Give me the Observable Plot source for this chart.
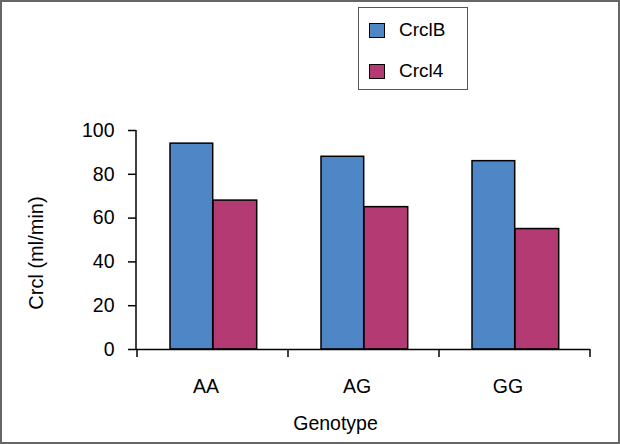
<!DOCTYPE html>
<html>
<head>
<meta charset="utf-8">
<script src="https://cdn.jsdelivr.net/npm/d3@7"></script>
<script src="https://cdn.jsdelivr.net/npm/@observablehq/plot@0.6"></script>
<style>
  html, body { margin: 0; padding: 0; background: #fff; }
  #wrap { position: relative; width: 620px; height: 444px; overflow: hidden; font-family: "Liberation Sans", Arial, sans-serif; }
  #chart svg { display: block; }
  #chart svg [aria-label^="y-axis"] path { stroke-width: 1.5; }
  #border { position: absolute; left: 0; top: 0; width: 620px; height: 444px; box-sizing: border-box; border: 2px solid #666; pointer-events: none; }
  #legend { position: absolute; left: 358px; top: 7px; width: 110px; height: 83px; box-sizing: border-box; border: 1.5px solid #555; background: #fff; }
  .item { position: absolute; left: 10px; height: 20px; display: flex; align-items: center; font-size: 19px; color: #000; }
  .sw { width: 14px; height: 13px; border: 1.5px solid #000; margin-right: 14px; }
</style>
</head>
<body>
<div id="wrap">
  <div id="chart"></div>
  <div id="legend"></div>
  <div id="border"></div>
</div>
<script>
// Data
const genotypes = ["AA", "AG", "GG"];
const seriesNames = ["CrclB", "Crcl4"];
const crclB = [94, 88, 86];
const crcl4 = [68, 65, 55];
const yTicks = [0, 20, 40, 60, 80, 100];
const colors = ["#4e86c6", "#b33a72"];
const yLabel = "Crcl (ml/min)";
const xLabel = "Genotype";

const rowsB = genotypes.map((g, i) => ({genotype: g, series: seriesNames[0], value: crclB[i]}));
const rows4 = genotypes.map((g, i) => ({genotype: g, series: seriesNames[1], value: crcl4[i]}));

// custom axis lines & category boundary ticks
function axisLines(index, scales, values, dimensions) {
  const {width, height, marginLeft, marginRight, marginTop, marginBottom} = dimensions;
  const x = scales.x;
  const bw = x(genotypes[1]) - x(genotypes[0]);
  const yb = height - marginBottom;
  const g = d3.create("svg:g").attr("stroke", "#000").attr("stroke-width", 1.5).attr("fill", "none");
  g.append("line").attr("x1", marginLeft).attr("x2", marginLeft).attr("y1", marginTop).attr("y2", yb);
  const bounds = genotypes.map(d => x(d)).concat([x(genotypes[genotypes.length - 1]) + bw]);
  for (const bx of bounds) {
    g.append("line").attr("x1", bx).attr("x2", bx).attr("y1", yb).attr("y2", yb + 8);
  }
  return g.node();
}

const chart = Plot.plot({
  width: 620,
  height: 444,
  marginLeft: 136,
  marginRight: 30,
  marginTop: 130,
  marginBottom: 95,
  style: {fontFamily: "'Liberation Sans', Arial, sans-serif", fontSize: "19.5px", color: "#000", background: "transparent", overflow: "visible"},
  x: {domain: genotypes, padding: 0, axis: null},
  y: {domain: [0, 100], ticks: yTicks, tickSize: 8, tickPadding: 14, label: null, tickFormat: d => String(d)},
  color: {domain: seriesNames, range: colors},
  marks: [
    Plot.barY(rowsB, {x: "genotype", y: "value", fill: "series", stroke: "#000", strokeWidth: 1.5, insetLeft: 33, insetRight: 75.3}),
    Plot.barY(rows4, {x: "genotype", y: "value", fill: "series", stroke: "#000", strokeWidth: 1.5, insetLeft: 76, insetRight: 31.3}),
    Plot.ruleY([0], {stroke: "#000", strokeWidth: 1.5}),
    axisLines,
    Plot.text(genotypes, {x: d => d, text: d => d, frameAnchor: "bottom", dy: 37, dx: -7, lineAnchor: "middle", fontSize: 19.5, fill: "#000"}),
    Plot.text([xLabel], {text: d => d, frameAnchor: "bottom", dx: -28, dy: 74, lineAnchor: "middle", fontSize: 19.5, fill: "#000"}),
    Plot.text([yLabel], {text: d => d, frameAnchor: "left", textAnchor: "middle", rotate: -90, dx: -100, dy: 13, lineAnchor: "middle", fontSize: 20, fill: "#000"})
  ]
});
document.getElementById("chart").appendChild(chart);

// legend (HTML, built from the series arrays)
const legend = document.getElementById("legend");
seriesNames.forEach((name, i) => {
  const item = document.createElement("div");
  item.className = "item";
  item.style.top = (i === 0 ? 12 : 53) + "px";
  const sw = document.createElement("div");
  sw.className = "sw";
  sw.style.background = colors[i];
  const t = document.createElement("span");
  t.textContent = name;
  item.appendChild(sw);
  item.appendChild(t);
  legend.appendChild(item);
});
</script>
</body>
</html>
